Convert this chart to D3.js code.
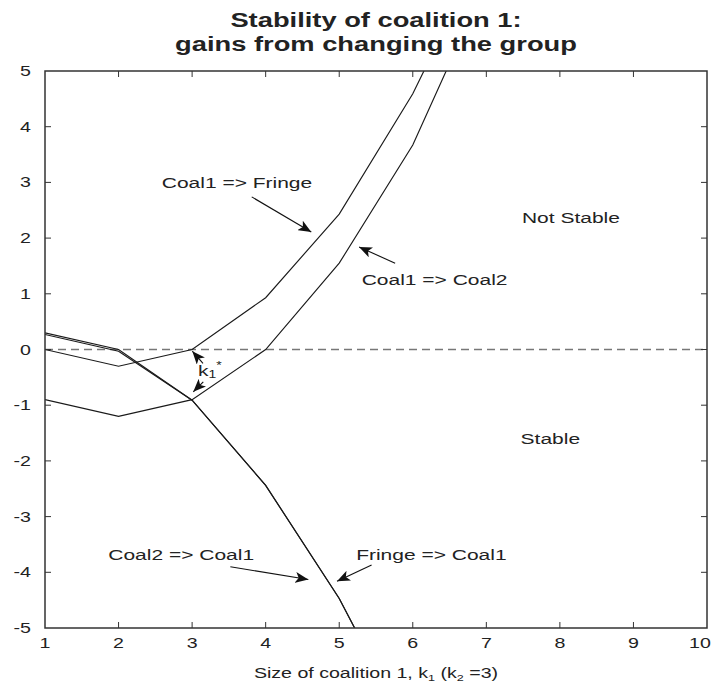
<!DOCTYPE html>
<html>
<head>
<meta charset="utf-8">
<script src="https://cdn.jsdelivr.net/npm/d3@7"></script>
<style>
  body { margin: 0; background: #fff; }
  text { font-family: "Liberation Sans", Arial, sans-serif; fill: #222; }
</style>
</head>
<body>
<svg id="chart"></svg>
<script>
// coalition sizes k1 and the gains of each move
const sizes = [1, 2, 3, 4, 5, 6, 7];
const coal1ToFringe = [0, -0.3, 0, 0.93, 2.43, 4.59, 7.3];
const coal1ToCoal2 = [-0.9, -1.2, -0.9, 0, 1.55, 3.67, 6.6];
const coal2ToCoal1 = [0.3, 0.0, -0.91, -2.44, -4.47, -7.0, -9.5];
const fringeToCoal1 = [0.27, -0.03, -0.91, -2.44, -4.47, -7.0, -9.5];
const xTicks = [1, 2, 3, 4, 5, 6, 7, 8, 9, 10];
const yTicks = [-5, -4, -3, -2, -1, 0, 1, 2, 3, 4, 5];

const W = 714, H = 684;
const margin = { top: 71, right: 7, bottom: 56, left: 45 };
const width = W - margin.left - margin.right;
const height = H - margin.top - margin.bottom;
const SX = 1.4; // the source figure is stretched sideways

const svg = d3.select("#chart").attr("width", W).attr("height", H);
const g = svg.append("g").attr("transform", `translate(${margin.left},${margin.top})`);

const x = d3.scaleLinear().domain([1, 10]).range([0, width]);
const y = d3.scaleLinear().domain([-5, 5]).range([height, 0]);

// stretched text helper
function label(parent, px, py, size, anchor, sx) {
    return parent.append("g")
        .attr("transform", `translate(${px},${py}) scale(${sx},1)`)
        .append("text")
        .attr("font-size", size)
        .attr("text-anchor", anchor);
}

svg.append("defs").append("clipPath").attr("id", "clip")
    .append("rect").attr("width", width).attr("height", height);

svg.select("defs").append("marker")
    .attr("id", "head")
    .attr("viewBox", "0 0 12 10")
    .attr("refX", 12).attr("refY", 5)
    .attr("markerWidth", 13).attr("markerHeight", 11)
    .attr("markerUnits", "userSpaceOnUse")
    .attr("orient", "auto")
    .append("path")
    .attr("d", "M0,0 L12,5 L0,10 L3,5 Z")
    .attr("fill", "#111");

// zero line
g.append("line")
    .attr("x1", 0).attr("x2", width)
    .attr("y1", y(0)).attr("y2", y(0))
    .attr("stroke", "#777").attr("stroke-width", 1.4)
    .attr("stroke-dasharray", "8,5");

const series = [coal1ToFringe, coal1ToCoal2, coal2ToCoal1, fringeToCoal1];
const line = d3.line().x((d, i) => x(sizes[i])).y(d => y(d));

g.append("g").attr("clip-path", "url(#clip)")
    .selectAll("path")
    .data(series)
    .join("path")
    .attr("d", line)
    .attr("fill", "none")
    .attr("stroke", "#1a1a1a")
    .attr("stroke-width", 1.15);

// axes box with inward ticks on all sides
const box = g.append("g");
box.append("rect").attr("width", width).attr("height", height)
    .attr("fill", "none").attr("stroke", "#333").attr("stroke-width", 1.5);

const tl = 6;
box.selectAll("line.xt").data(xTicks.slice(1, -1)).join("line")
    .attr("x1", d => x(d)).attr("x2", d => x(d)).attr("y1", height).attr("y2", height - tl)
    .attr("stroke", "#333");
box.selectAll("line.xtt").data(xTicks.slice(1, -1)).join("line")
    .attr("x1", d => x(d)).attr("x2", d => x(d)).attr("y1", 0).attr("y2", tl)
    .attr("stroke", "#333");
box.selectAll("line.yt").data(yTicks.slice(1, -1)).join("line")
    .attr("x1", 0).attr("x2", tl).attr("y1", d => y(d)).attr("y2", d => y(d))
    .attr("stroke", "#333");
box.selectAll("line.ytr").data(yTicks.slice(1, -1)).join("line")
    .attr("x1", width).attr("x2", width - tl).attr("y1", d => y(d)).attr("y2", d => y(d))
    .attr("stroke", "#333");

xTicks.forEach(d => {
    // keep the last label inside the picture
    const px = Math.min(x(d), width - 7);
    label(g, px, height + 20, 14, "middle", SX).text(d);
});
yTicks.forEach(d => {
    label(g, -14, y(d) + 5, 14, "end", SX).text(d);
});

// title
label(svg, 376, 27, 19.5, "middle", SX).attr("font-weight", "bold").text("Stability of coalition 1:");
label(svg, 376, 51, 19.5, "middle", SX).attr("font-weight", "bold").text("gains from changing the group");

// x axis title
const xt = label(svg, 376, 678, 14, "middle", SX);
xt.append("tspan").text("Size of coalition 1, k");
xt.append("tspan").attr("font-size", 9).attr("dy", 3).text("1");
xt.append("tspan").attr("dy", -3).text(" (k");
xt.append("tspan").attr("font-size", 9).attr("dy", 3).text("2");
xt.append("tspan").attr("dy", -3).text(" =3)");

// annotations, in data coordinates
const notes = [
    { text: "Coal1 => Fringe", at: [2.587, 2.9], anchor: "start" },
    { text: "Coal1 => Coal2", at: [5.305, 1.16], anchor: "start" },
    { text: "Not Stable", at: [8.15, 2.28], anchor: "middle" },
    { text: "Stable", at: [7.87, -1.69], anchor: "middle" },
    { text: "Coal2 => Coal1", at: [1.86, -3.78], anchor: "start" },
    { text: "Fringe => Coal1", at: [5.23, -3.78], anchor: "start" }
];
notes.forEach(n => {
    label(g, x(n.at[0]), y(n.at[1]), 15, n.anchor, SX).text(n.text);
});

const arrows = [
    [[3.81, 2.74], [4.62, 2.11]],
    [[5.76, 1.55], [5.27, 1.84]],
    [[3.52, -3.9], [4.58, -4.13]],
    [[5.44, -3.87], [4.97, -4.16]],
    [[3.148, -0.25], [3.003, -0.03]],
    [[3.152, -0.58], [3.016, -0.76]]
];
g.selectAll("line.arrow").data(arrows).join("line")
    .attr("class", "arrow")
    .attr("x1", d => x(d[0][0])).attr("y1", d => y(d[0][1]))
    .attr("x2", d => x(d[1][0])).attr("y2", d => y(d[1][1]))
    .attr("stroke", "#111").attr("stroke-width", 1.1)
    .attr("marker-end", "url(#head)");

const k = label(g, x(3.08), y(-0.48), 15, "start", SX);
k.append("tspan").text("k");
k.append("tspan").attr("font-size", 10).attr("dy", 2).text("1");
k.append("tspan").attr("font-size", 10).attr("dy", -9).text("*");
</script>
</body>
</html>
